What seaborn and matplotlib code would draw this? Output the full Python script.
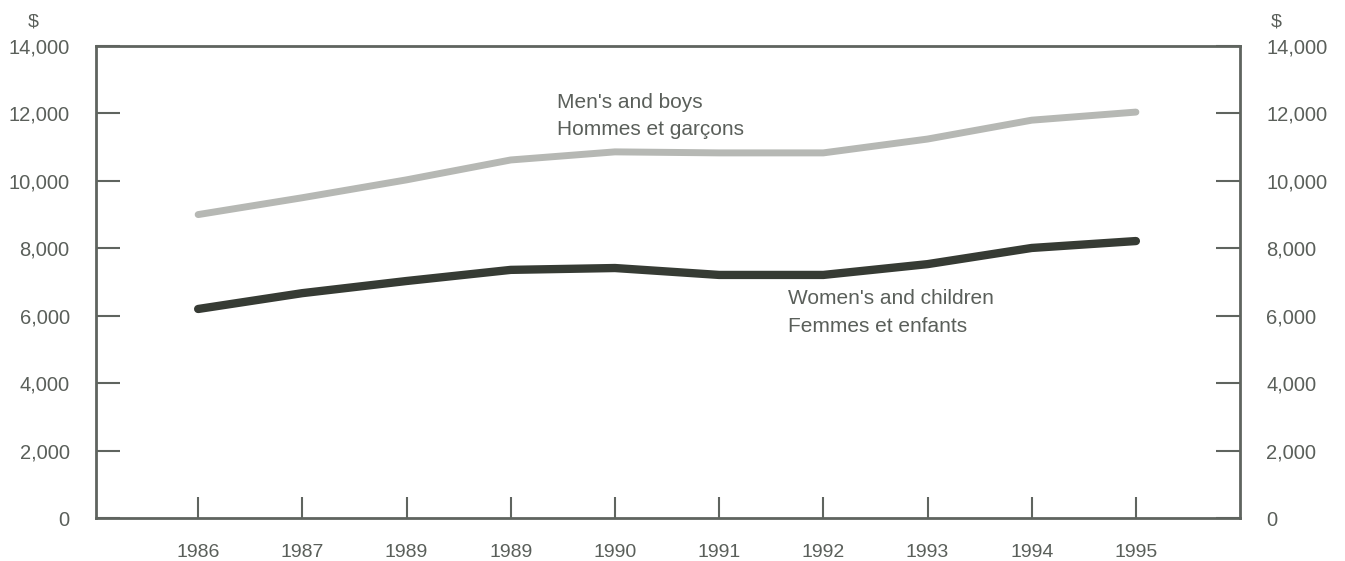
import numpy as np
import pandas as pd
import seaborn as sns
import matplotlib.pyplot as plt

# Valeurs (dollars)
years = ["1986", "1987", "1989", "1989", "1990", "1991", "1992", "1993", "1994", "1995"]
mens_boys = [9000, 9500, 10030, 10620, 10860, 10830, 10830, 11240, 11800, 12040]
womens_children = [6200, 6670, 7030, 7360, 7415, 7210, 7210, 7530, 8010, 8215]

sns.set_style("white")
plt.rcParams["font.family"] = ["Liberation Sans", "DejaVu Sans"]

text_color = "#5a5f5a"
spine_color = "#5f645f"

data = pd.DataFrame({
    "pos": np.arange(len(years)),
    "men": mens_boys,
    "women": womens_children,
})

fig = plt.figure(figsize=(13.45, 5.61), dpi=100)
ax = fig.add_axes([0.0714, 0.0766, 0.8506, 0.8414])

sns.lineplot(data=data, x="pos", y="men", ax=ax, color="#b6b8b4",
             linewidth=5, solid_capstyle="round")
sns.lineplot(data=data, x="pos", y="women", ax=ax, color="#363b34",
             linewidth=6, solid_capstyle="round")

ax.set_xlim(-0.98, 10.0)
ax.set_ylim(0, 14000)
ax.set_xticks(data["pos"])
ax.set_xticklabels(years)
ax.set_yticks(np.arange(0, 14001, 2000))
ax.yaxis.set_major_formatter(plt.FuncFormatter(lambda v, p: f"{int(v):,}"))
ax.set_xlabel("")
ax.set_ylabel("")

ax.tick_params(axis="x", direction="in", length=15, width=1.5, color=spine_color,
               labelsize=14, labelcolor=text_color, pad=19, bottom=True, top=False)
ax.tick_params(axis="y", direction="in", length=17, width=1.5, color=spine_color,
               labelsize=14.5, labelcolor=text_color, pad=19,
               left=True, right=True, labelleft=True, labelright=True)

for side, spine in ax.spines.items():
    spine.set_visible(True)
    spine.set_color(spine_color)
    spine.set_linewidth(2)

fig.text(0.0245, 0.961, "$", ha="center", va="center", fontsize=14, color=text_color)
fig.text(0.949, 0.961, "$", ha="center", va="center", fontsize=14, color=text_color)

ax.text(3.44, 12310, "Men's and boys", ha="left", va="center",
        fontsize=15, color=text_color)
ax.text(3.44, 11510, "Hommes et garçons", ha="left", va="center",
        fontsize=15, color=text_color)
ax.text(5.66, 6525, "Women's and children", ha="left", va="center",
        fontsize=15, color=text_color)
ax.text(5.66, 5695, "Femmes et enfants", ha="left", va="center",
        fontsize=15, color=text_color)

fig.savefig("out.png", dpi=100, facecolor="white")
